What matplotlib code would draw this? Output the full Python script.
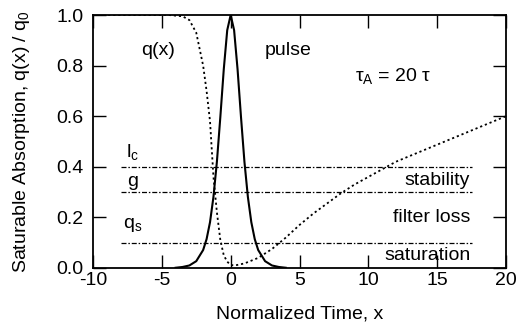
import matplotlib
matplotlib.use("Agg")
import matplotlib.pyplot as plt

plt.rcParams['font.family'] = ['Liberation Sans', 'DejaVu Sans']
plt.rcParams['mathtext.fontset'] = 'custom'
plt.rcParams['mathtext.rm'] = 'Liberation Sans'
plt.rcParams['mathtext.it'] = 'Liberation Sans:italic'

# Pulse intensity (normalized)
pulse_x = [-4.0, -3.5, -3.0, -2.5, -2.0, -1.75, -1.5, -1.25, -1.0, -0.75, -0.5, -0.25, 0.0,
           0.25, 0.5, 0.75, 1.0, 1.25, 1.5, 1.75, 2.0, 2.5, 3.0, 3.5, 4.0]
pulse_y = [0.001, 0.004, 0.010, 0.027, 0.071, 0.114, 0.181, 0.281, 0.420, 0.597, 0.786, 0.940, 1.0,
           0.940, 0.786, 0.597, 0.420, 0.281, 0.181, 0.114, 0.071, 0.027, 0.010, 0.004, 0.001]

# Saturable absorption q(x)/q0
q_x = [-10.0, -4.5, -3.5, -3.0, -2.5, -2.0, -1.75, -1.5, -1.25, -1.0, -0.75, -0.5, -0.25, 0.0,
       0.3, 1.0, 2.0, 3.0, 4.0, 5.0, 6.0, 7.0, 8.0, 9.0, 10.0, 12.0, 14.0, 16.0, 18.0, 20.0]
q_y = [1.0, 1.0, 0.995, 0.98, 0.93, 0.80, 0.70, 0.58, 0.36, 0.22, 0.11, 0.05, 0.025, 0.012,
       0.01, 0.018, 0.04, 0.075, 0.12, 0.17, 0.215, 0.255, 0.295, 0.33, 0.36, 0.42, 0.465, 0.51, 0.555, 0.60]

# Horizontal levels
level_names = ["l$_\\mathregular{c}$", "g", "q$_\\mathregular{s}$"]
level_values = [0.4, 0.3, 0.1]
level_start = -8.0
level_end = 17.5

region_labels = ["stability", "filter loss", "saturation"]

xticks = [-10, -5, 0, 5, 10, 15, 20]
yticks = [0.0, 0.2, 0.4, 0.6, 0.8, 1.0]

fig = plt.figure(figsize=(5.16, 3.31), dpi=100)
ax = fig.add_axes([93/516, 1-268/331, (506-93)/516, (268-15)/331])

ax.plot(pulse_x, pulse_y, color='black', lw=1.5, solid_joinstyle='round')
ax.plot(q_x, q_y, color='black', lw=1.3, linestyle=(0, (1.2, 1.6)))
for v in level_values:
    ax.plot([level_start, level_end], [v, v], color='black', lw=0.9,
            linestyle=(0, (4, 1.5, 1.2, 1.5)))

ax.set_xlim(-10, 20)
ax.set_ylim(0, 1)
ax.set_xticks(xticks)
ax.set_yticks(yticks)
ax.set_xticklabels([str(t) for t in xticks])
ax.set_yticklabels(["%.1f" % t for t in yticks])
ax.tick_params(direction='in', length=9.5, width=1.0, labelsize=14,
               top=True, right=True)
ax.tick_params(axis='y', pad=7)
ax.tick_params(axis='x', pad=3)
for s in ax.spines.values():
    s.set_linewidth(1.3)

fs = 14
ax.text(-7.1, 0.46, level_names[0], fontsize=fs, ha='center', va='center')
ax.text(-7.1, 0.34, level_names[1], fontsize=fs, ha='center', va='center')
ax.text(-7.1, 0.17, level_names[2], fontsize=fs, ha='center', va='center')
ax.text(-5.3, 0.86, "q(x)", fontsize=fs, ha='center', va='center')
ax.text(2.5, 0.86, "pulse", fontsize=fs, ha='left', va='center')
ax.text(9.0, 0.76, "τ$_\\mathregular{A}$ = 20 τ", fontsize=fs, ha='left', va='center')
ax.text(17.4, 0.345, region_labels[0], fontsize=fs, ha='right', va='center')
ax.text(17.4, 0.20, region_labels[1], fontsize=fs, ha='right', va='center')
ax.text(17.4, 0.05, region_labels[2], fontsize=fs, ha='right', va='center')

ax.set_xlabel("Normalized Time, x", fontsize=fs, labelpad=12)
ax.set_ylabel("Saturable Absorption, q(x) / q$_\\mathregular{0}$", fontsize=fs, labelpad=17)

fig.savefig("out.png", dpi=100)
